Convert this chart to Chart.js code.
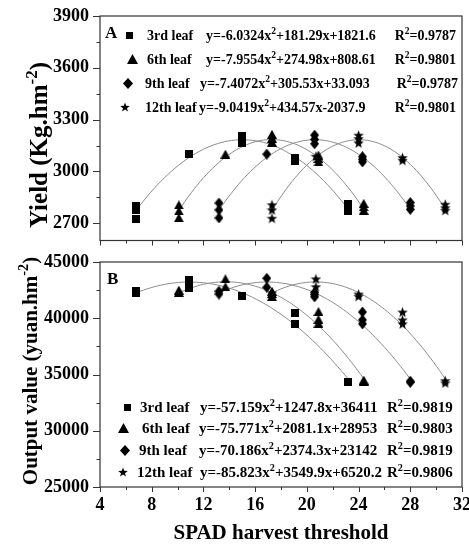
<!DOCTYPE html>
<html>
<head>
<meta charset="utf-8">
<script src="https://cdn.jsdelivr.net/npm/chart.js@4.4.1/dist/chart.umd.min.js"></script>
<style>
  html, body { margin: 0; padding: 0; background: #fff; }
  #wrap { position: relative; width: 469px; height: 544px; }
  canvas { position: absolute; left: 0; }
  #chartA { top: 0; }
  #chartB { top: 250px; }
</style>
</head>
<body>
<div id="wrap">
  <canvas id="chartA" width="469" height="250"></canvas>
  <canvas id="chartB" width="469" height="294"></canvas>
</div>
<script>
// SPAD thresholds for each leaf position
const leafNames = ['3rd leaf', '6th leaf', '9th leaf', '12th leaf'];
const spad3 = [6.8, 10.9, 15.0, 19.1, 23.2];
const spad6 = [10.1, 13.7, 17.3, 20.9, 24.4];
const spad9 = [13.2, 16.9, 20.6, 24.3, 28.0];
const spad12 = [17.3, 20.7, 24.0, 27.4, 30.7];

// panel A, yield (replicates per threshold)
const yield3 = [[2727, 2778, 2801], [3100], [3165, 3185, 3205], [3060, 3075], [2770, 2790, 2810]];
const yield6 = [[2732, 2771, 2806], [3100], [3170, 3192, 3215], [3055, 3075, 3095], [2775, 2795, 2815]];
const yield9 = [[2731, 2777, 2817], [3100], [3160, 3185, 3210], [3055, 3070, 3085], [2780, 2800, 2820]];
const yield12 = [[2729, 2777, 2807], [3088], [3165, 3190, 3210], [3065, 3080], [2775, 2790, 2810]];
const yieldFit = [[-6.0324, 181.29, 1821.6], [-7.9554, 274.98, 808.61], [-7.4072, 305.53, 33.093], [-9.0419, 434.57, -2037.9]];
const yieldR2 = [0.9787, 0.9801, 0.9787, 0.9801];

// panel B, output value
const out3 = [[42250, 42400], [42700, 43400], [42000], [39500, 40450], [34350]];
const out6 = [[42300, 42500], [42800, 43500], [41950, 42200, 42400], [39550, 39900, 40600], [34400, 34500]];
const out9 = [[42150, 42400], [42750, 43550], [41900, 42100, 42300], [39500, 39850, 40550], [34300, 34400]];
const out12 = [[42250], [42800, 43500], [41950, 42150], [39500, 39850, 40550], [34250, 34450]];
const outFit = [[-57.159, 1247.8, 36411], [-75.771, 2081.1, 28953], [-70.186, 2374.3, 23142], [-85.823, 3549.9, 6520.2]];
const outR2 = [0.9819, 0.9803, 0.9819, 0.9806];

const xTicks = [4, 8, 12, 16, 20, 24, 28, 32];
const yieldTicks = [2700, 3000, 3300, 3600, 3900];
const outTicks = [25000, 30000, 35000, 40000, 45000];

const FONT = '"Liberation Serif", "Times New Roman", serif';

function marker(shape, w, h) {
  const c = document.createElement('canvas');
  c.width = w; c.height = h;
  const g = c.getContext('2d');
  g.fillStyle = '#000';
  g.beginPath();
  if (shape === 'square') {
    g.rect(0, 0, w, h);
  } else if (shape === 'triangle') {
    g.moveTo(w / 2, 0); g.lineTo(w, h); g.lineTo(0, h);
  } else if (shape === 'diamond') {
    g.moveTo(w / 2, 0); g.lineTo(w, h / 2); g.lineTo(w / 2, h); g.lineTo(0, h / 2);
  } else {
    const R = w / 2, r = R * 0.42, cx = w / 2, cy = h / 2 + R * 0.1;
    for (let i = 0; i < 10; i++) {
      const a = -Math.PI / 2 + i * Math.PI / 5;
      const rr = i % 2 ? r : R;
      g.lineTo(cx + rr * Math.cos(a), cy + rr * Math.sin(a));
    }
  }
  g.closePath();
  g.fill();
  return c;
}

const dataMarks = [marker('square', 8, 8), marker('triangle', 10, 9), marker('diamond', 9, 11), marker('star', 11, 11)];
const legendMarks = [marker('square', 7, 7), marker('triangle', 11, 10), marker('diamond', 10, 11), marker('star', 10, 10)];

function points(xs, ys) {
  const out = [];
  xs.forEach((x, i) => ys[i].forEach(y => out.push({ x: x, y: y })));
  return out;
}

function curve(xs, c) {
  const a = xs[0], b = xs[xs.length - 1], out = [];
  for (let i = 0; i <= 60; i++) {
    const x = a + (b - a) * i / 60;
    out.push({ x: x, y: c[0] * x * x + c[1] * x + c[2] });
  }
  return out;
}

function sgn(v) { return (v >= 0 ? '+' : '') + v; }

function rich(ctx, parts, x, y, size, align) {
  const sup = size * 0.68;
  let w = 0;
  parts.forEach(p => {
    ctx.font = 'bold ' + (p[1] ? sup : size) + 'px ' + FONT;
    w += ctx.measureText(p[0]).width;
  });
  let cx = align === 'center' ? x - w / 2 : (align === 'right' ? x - w : x);
  ctx.textAlign = 'left';
  ctx.textBaseline = 'alphabetic';
  parts.forEach(p => {
    ctx.font = 'bold ' + (p[1] ? sup : size) + 'px ' + FONT;
    ctx.fillText(p[0], cx, p[1] ? y - size * 0.4 : y);
    cx += ctx.measureText(p[0]).width;
  });
}

function makePanel(id, o) {
  const datasets = [];
  o.xs.forEach((xs, k) => {
    datasets.push({ type: 'scatter', data: points(xs, o.ys[k]), pointStyle: dataMarks[k],
      pointRadius: 5, pointHoverRadius: 5, order: 0 });
  });
  o.xs.forEach((xs, k) => {
    datasets.push({ type: 'line', data: curve(xs, o.fit[k]), borderColor: '#8c8c8c', borderWidth: 1,
      pointRadius: 0, fill: false, tension: 0, order: 1 });
  });

  const decor = {
    id: 'decor',
    afterDraw(chart) {
      const ctx = chart.ctx, ca = chart.chartArea;
      const xs = chart.scales.x, ys = chart.scales.y;
      ctx.save();
      ctx.strokeStyle = '#333';
      ctx.lineWidth = 1.2;
      ctx.strokeRect(ca.left, ca.top, ca.right - ca.left, ca.bottom - ca.top);
      ctx.lineWidth = 1;
      ctx.beginPath();
      xs.ticks.forEach(t => {
        const px = Math.round(xs.getPixelForValue(t.value)) + 0.5;
        const len = t.value % 4 === 0 ? 5 : 3;
        ctx.moveTo(px, ca.bottom); ctx.lineTo(px, ca.bottom + len);
      });
      ys.ticks.forEach(t => {
        const py = Math.round(ys.getPixelForValue(t.value)) + 0.5;
        const len = o.yMajor.includes(t.value) ? 7 : 3.5;
        ctx.moveTo(ca.left, py); ctx.lineTo(ca.left - len, py);
      });
      ctx.stroke();

      ctx.fillStyle = '#000';
      // y title
      ctx.save();
      ctx.translate(o.yTitle.x, o.yTitle.y);
      ctx.rotate(-Math.PI / 2);
      rich(ctx, o.yTitle.parts, 0, o.yTitle.size * 0.34, o.yTitle.size, 'center');
      ctx.restore();
      if (o.xTitle) {
        rich(ctx, [[o.xTitle.text, 0]], o.xTitle.x, o.xTitle.y, o.xTitle.size, 'center');
      }
      // panel letter
      rich(ctx, [[o.letter.text, 0]], o.letter.x, o.letter.y, 17, 'left');
      // legend
      const L = o.legend;
      leafNames.forEach((name, k) => {
        const cy = L.rows[k];
        const m = legendMarks[k];
        ctx.drawImage(m, Math.round(L.mark[k] - m.width / 2), Math.round(cy - m.height / 2));
        const base = cy + 5;
        rich(ctx, [[name, 0]], L.name[k], base, L.size, 'left');
        const c = o.fit[k];
        rich(ctx, [['y=' + c[0] + 'x', 0], ['2', 1], [sgn(c[1]) + 'x' + sgn(c[2]), 0]], L.eq[k], base, L.size, 'left');
        rich(ctx, [['R', 0], ['2', 1], ['=' + o.r2[k], 0]], L.r[k], base, L.size, L.rAlign || 'left');
      });
      ctx.restore();
    }
  };

  return new Chart(document.getElementById(id), {
    data: { datasets: datasets },
    options: {
      responsive: false,
      animation: false,
      events: [],
      layout: { padding: { top: o.padTop, right: 7, left: 0, bottom: 0 } },
      plugins: { legend: { display: false }, tooltip: { enabled: false } },
      scales: {
        x: {
          type: 'linear', min: 4, max: 32,
          afterBuildTicks: s => {
            const t = [];
            for (let v = 4; v <= 32; v += 2) t.push({ value: v });
            s.ticks = t;
          },
          afterFit: s => { s.height = o.xHeight; s.paddingLeft = 0; s.paddingRight = 0; },
          border: { display: false },
          grid: { drawOnChartArea: false, tickLength: 5, tickColor: 'rgba(0,0,0,0)' },
          ticks: {
            display: o.xLabels, autoSkip: false, maxRotation: 0, padding: 3, color: '#000',
            font: { family: FONT, weight: 'bold', size: 18 },
            callback: v => (xTicks.includes(v) ? String(v) : '')
          }
        },
        y: {
          type: 'linear', min: o.yMin, max: o.yMax,
          afterBuildTicks: s => {
            const t = [];
            for (let v = o.yMajor[0]; v <= o.yMax; v += o.yStep) t.push({ value: v });
            s.ticks = t;
          },
          afterFit: s => { s.width = 100; s.paddingTop = 0; s.paddingBottom = 0; },
          border: { display: false },
          grid: { drawOnChartArea: false, tickLength: 7, tickColor: 'rgba(0,0,0,0)' },
          ticks: {
            autoSkip: false, padding: 4, color: '#000',
            font: { family: FONT, weight: 'bold', size: 18 },
            callback: v => (o.yMajor.includes(v) ? String(v) : '')
          }
        }
      }
    },
    plugins: [decor]
  });
}

makePanel('chartA', {
  xs: [spad3, spad6, spad9, spad12],
  ys: [yield3, yield6, yield9, yield12],
  fit: yieldFit, r2: yieldR2,
  yMin: 2600, yMax: 3900, yStep: 150, yMajor: yieldTicks,
  padTop: 16, xHeight: 9.5, xLabels: false,
  yTitle: { parts: [['Yield (Kg.hm', 0], ['-2', 1], [')', 0]], x: 38.5, y: 145, size: 25 },
  letter: { text: 'A', x: 105, y: 38 },
  legend: {
    size: 14,
    rows: [35, 59, 83, 107],
    mark: [129, 132, 128, 125],
    name: [147, 147, 145, 145],
    eq: [206, 206, 200, 199],
    r: [456, 456, 458, 456],
    rAlign: 'right'
  }
});

makePanel('chartB', {
  xs: [spad3, spad6, spad9, spad12],
  ys: [out3, out6, out9, out12],
  fit: outFit, r2: outR2,
  yMin: 25000, yMax: 45000, yStep: 2500, yMajor: outTicks,
  padTop: 12, xHeight: 57, xLabels: true,
  yTitle: { parts: [['Output value (yuan.hm', 0], ['-2', 1], [')', 0]], x: 29.7, y: 121, size: 21 },
  xTitle: { text: 'SPAD harvest threshold', x: 281, y: 289, size: 21 },
  letter: { text: 'B', x: 107, y: 34 },
  legend: {
    size: 15,
    rows: [157, 178, 200, 222],
    mark: [127, 123, 125, 123],
    name: [140, 142, 139, 137],
    eq: [200, 199, 199, 200],
    r: [387, 387, 387, 387]
  }
});
</script>
</body>
</html>
